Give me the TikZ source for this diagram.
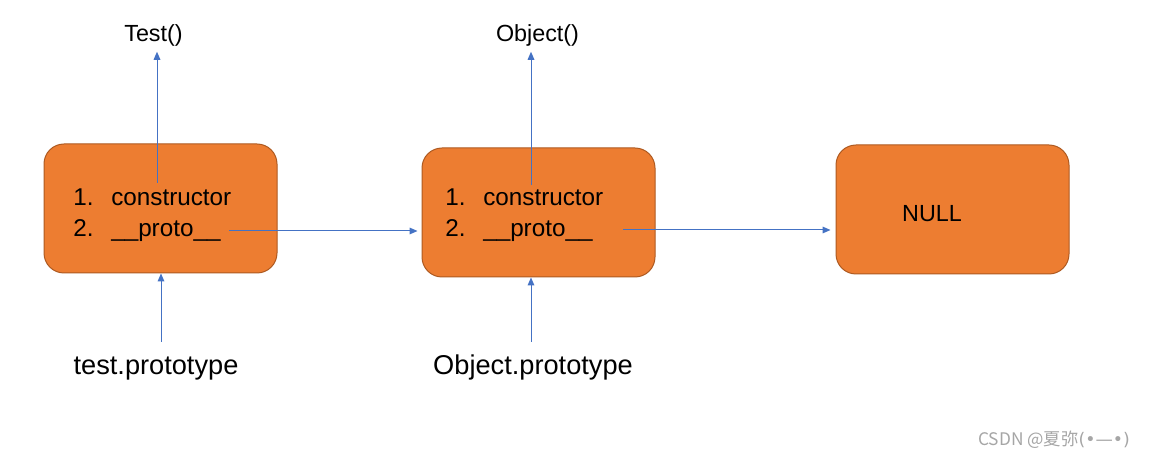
\documentclass[tikz,border=0pt]{standalone}
\usepackage{fontspec}
\setmainfont{Liberation Sans}
\newfontfamily\cjk{Noto Sans CJK SC}
\newfontfamily\dejavu{DejaVu Sans}
\usetikzlibrary{arrows.meta}
\definecolor{boxfill}{HTML}{ED7D31}
\definecolor{boxline}{HTML}{AE5A21}
\definecolor{arrowblue}{HTML}{4472C4}
\definecolor{wmgray}{HTML}{A6A6A6}
\begin{document}
\begin{tikzpicture}[x=0.75pt,y=-0.75pt,
  box/.style={draw=boxline, fill=boxfill, line width=0.75pt, rounded corners=15pt,
    minimum width=174.75pt, minimum height=96.75pt, inner sep=0pt},
  arr/.style={draw=arrowblue, line width=0.75pt, -{Triangle[length=6pt,width=5pt]}},
  item/.style={anchor=base west, inner sep=0pt, font=\fontsize{18.2}{20}\selectfont},
  toptext/.style={anchor=base, inner sep=0pt, font=\fontsize{17.5}{20}\selectfont},
  bottext/.style={anchor=base, inner sep=0pt, font=\fontsize{20.4}{24}\selectfont},
]
\fill[white] (0,0) rectangle (1161,459);
\useasboundingbox (0,0) rectangle (1161,459);

% boxes
\node[box] (box1) at (160.5,208.5) {};
\node[box] (box2) at (538.5,212.5) {};
\node[box] (box3) at (952.5,209.5) {};

% box 1 text
\node[item] (n11) at (73,206) {1.};
\node[item] (c1) at (111,206) {constructor};
\node[item] (n12) at (73,237) {2.};
\node[item] (p1) at (111,237) {\_\_proto\_\_};
% box 2 text
\node[item] (n21) at (445,206) {1.};
\node[item] (c2) at (483,206) {constructor};
\node[item] (n22) at (445,237) {2.};
\node[item] (p2) at (483,237) {\_\_proto\_\_};
% box 3 text
\node[anchor=base, inner sep=0pt, font=\fontsize{17.5}{20}\selectfont] (null) at (932,222) {NULL};

% outer labels
\node[toptext] (test) at (153.5,42) {Test()};
\node[toptext] (obj) at (537.5,42) {Object()};
\node[bottext] (tp) at (156,375) {test.prototype};
\node[bottext] (op) at (533,375) {Object.prototype};

% free ends
\coordinate (s1) at (157,183);
\coordinate (s2) at (531,185);
\coordinate (h1) at (229,231);
\coordinate (h2) at (623,230);
\coordinate (b1) at (161,342);
\coordinate (b2) at (531,342);

% connectors
\draw[arr, shorten >=3.5pt] (s1) -- (s1 |- test.south);
\draw[arr, shorten >=3.5pt] (s2) -- (s2 |- obj.south);
\draw[arr, shorten >=3pt] (h1) -- (h1 -| box2.west);
\draw[arr, shorten >=3.75pt] (h2) -- (h2 -| box3.west);
\draw[arr] (b1) -- (b1 |- box1.south);
\draw[arr] (b2) -- (b2 |- box2.south);

% watermark
\node[anchor=base west, inner sep=0pt, text=wmgray, font=\cjk\fontsize{13}{15}\selectfont] (wm) at (978,446) {CSDN @夏弥{\dejavu(•—•)}};
\end{tikzpicture}
\end{document}
